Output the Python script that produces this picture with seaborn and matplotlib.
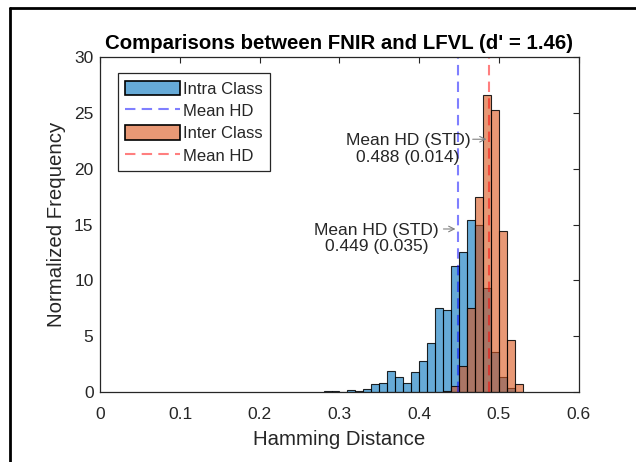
import numpy as np
import pandas as pd
import matplotlib
matplotlib.use('Agg')
import matplotlib.pyplot as plt
import seaborn as sns
from matplotlib.patches import Patch
from matplotlib.lines import Line2D

# bin left edges (width 0.01) and normalized frequencies
intra_bins = [0.28, 0.29, 0.30, 0.31, 0.32, 0.33, 0.34, 0.35, 0.36, 0.37, 0.38, 0.39,
              0.40, 0.41, 0.42, 0.43, 0.44, 0.45, 0.46, 0.47, 0.48, 0.49, 0.50, 0.51]
intra_freq = [0.03, 0.10, 0.0, 0.20, 0.03, 0.27, 0.66, 0.81, 1.88, 1.32, 0.83, 1.76,
              2.80, 4.34, 7.48, 7.35, 11.3, 12.5, 15.4, 15.0, 9.27, 3.60, 1.30, 0.30]

inter_bins = [0.43, 0.44, 0.45, 0.46, 0.47, 0.48, 0.49, 0.50, 0.51, 0.52]
inter_freq = [0.05, 0.50, 2.30, 7.48, 17.45, 26.6, 25.3, 14.44, 4.60, 0.70]

intra_mean, intra_std = 0.449, 0.035
inter_mean, inter_std = 0.488, 0.014
d_prime = 1.46

binwidth = 0.01

intra_df = pd.DataFrame({'hd': np.array(intra_bins) + binwidth / 2, 'freq': intra_freq})
inter_df = pd.DataFrame({'hd': np.array(inter_bins) + binwidth / 2, 'freq': inter_freq})

sns.set_style('white')
plt.rcParams['font.family'] = ['Liberation Sans', 'DejaVu Sans']
text_col = '#262626'

fig = plt.figure(figsize=(6.36, 4.62), dpi=100)
ax = fig.add_axes([0.158, 0.152, 0.7516, 0.724])

blue = (0.0, 0.447, 0.741)
orange = (0.851, 0.325, 0.098)

sns.histplot(data=intra_df, x='hd', weights='freq', binwidth=binwidth,
             binrange=(intra_bins[0], intra_bins[-1] + binwidth), color=blue, ax=ax)
n_intra = len(ax.patches)
sns.histplot(data=inter_df, x='hd', weights='freq', binwidth=binwidth,
             binrange=(inter_bins[0], inter_bins[-1] + binwidth), color=orange, ax=ax)
for i, p in enumerate(ax.patches):
    col = blue if i < n_intra else orange
    p.set_alpha(None)
    p.set_facecolor((*col, 0.6))
    p.set_edgecolor((0, 0, 0, 0.85))
    p.set_linewidth(0.8)

ax.axvline(intra_mean, color=(0, 0, 1, 0.5), ls=(0, (5, 3)), lw=1.5)
ax.axvline(inter_mean, color=(1, 0, 0, 0.5), ls=(0, (5, 3)), lw=1.5)

# textarrows
ax.annotate('', xy=(inter_mean, 22.65), xytext=(0.4637, 22.65),
            arrowprops=dict(arrowstyle='->', color='#808080', lw=0.8))
ax.text(0.386, 21.75, f'Mean HD (STD)\n{inter_mean:.3f} ({inter_std:.3f})',
        ha='center', va='center', multialignment='center', fontsize=12.5,
        color=text_col, linespacing=1.15)
ax.annotate('', xy=(intra_mean, 14.6), xytext=(0.427, 14.6),
            arrowprops=dict(arrowstyle='->', color='#808080', lw=0.8))
ax.text(0.3464, 13.75, f'Mean HD (STD)\n{intra_mean:.3f} ({intra_std:.3f})',
        ha='center', va='center', multialignment='center', fontsize=12.5,
        color=text_col, linespacing=1.15)

ax.set_xlim(0, 0.6)
ax.set_ylim(0, 30)
ax.set_xticks(np.arange(0, 0.61, 0.1))
ax.set_xticklabels(['0', '0.1', '0.2', '0.3', '0.4', '0.5', '0.6'])
ax.set_yticks(range(0, 31, 5))
ax.tick_params(direction='in', length=4, width=0.8, colors=text_col, labelsize=12.5,
               top=True, right=True, pad=5)
ax.tick_params(axis='x', pad=11)
for s in ax.spines.values():
    s.set_color(text_col)
    s.set_linewidth(0.9)

ax.set_xlabel('Hamming Distance', fontsize=14.7, color=text_col, labelpad=6)
ax.set_ylabel('Normalized Frequency', fontsize=14.7, color=text_col, labelpad=6)
ax.set_title(f"Comparisons between FNIR and LFVL (d' = {d_prime:.2f})",
             fontsize=14.7, fontweight='bold', color='black', pad=6)

handles = [
    Patch(facecolor=(*blue, 0.6), edgecolor='black', linewidth=1.2, label='Intra Class'),
    Line2D([], [], color=(0, 0, 1, 0.5), ls=(0, (5, 3)), lw=1.5, label='Mean HD'),
    Patch(facecolor=(*orange, 0.6), edgecolor='black', linewidth=1.2, label='Inter Class'),
    Line2D([], [], color=(1, 0, 0, 0.5), ls=(0, (5, 3)), lw=1.5, label='Mean HD'),
]
leg = ax.legend(handles=handles, loc='upper left', bbox_to_anchor=(0.0366, 0.953),
                borderaxespad=0, fontsize=12, fancybox=False, framealpha=1,
                edgecolor=text_col, handlelength=3.3, handleheight=1.0,
                handletextpad=0.15, labelspacing=0.37, borderpad=0.45)
leg.get_frame().set_linewidth(0.9)
for t in leg.get_texts():
    t.set_color(text_col)

# screenshot frame on top and left
fig.add_artist(Line2D([10 / 636, 1], [1 - 8 / 462, 1 - 8 / 462], color='black', lw=2,
                      transform=fig.transFigure))
fig.add_artist(Line2D([10 / 636, 10 / 636], [0, 1 - 8 / 462], color='black', lw=2,
                      transform=fig.transFigure))

fig.savefig('out.png', dpi=100)
plt.close(fig)
